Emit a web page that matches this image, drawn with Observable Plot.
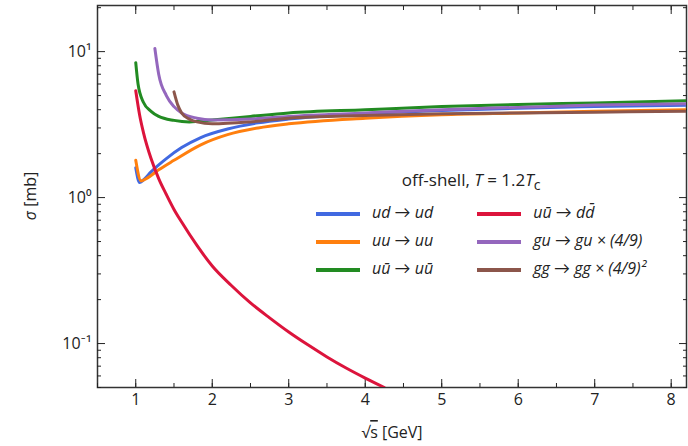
<!DOCTYPE html>
<html>
<head>
<meta charset="UTF-8">
<script src="https://cdn.jsdelivr.net/npm/d3@7"></script>
<script src="https://cdn.jsdelivr.net/npm/@observablehq/plot@0.6/dist/plot.umd.min.js"></script>
<style>
  body { margin: 0; background: #fff; font-family: "Open Sans", Lato, sans-serif; }
  #wrap { position: relative; width: 688px; height: 446px; }
  #legend { position: absolute; left: 312px; top: 168px; font-size: 16px; color: #222; }
  #legend .title { text-align: center; font-size: 17px; margin-left: -20px; margin-bottom: 4px; }
  #legend table { border-collapse: collapse; }
  #legend td { padding: 0 4px; height: 28px; font-style: italic; white-space: nowrap; }
  #legend td:first-child { padding-right: 40px; }
  #legend .sw { display: inline-block; width: 44px; height: 4px; vertical-align: middle; margin-right: 12px; }
</style>
</head>
<body>
<div id="wrap">
  <div id="chart"></div>
  <div id="legend"></div>
</div>
<script>
// sigma(√s) curves
const blueX = [1.0, 1.05, 1.1, 1.2, 1.4, 1.6, 1.85, 2.2, 2.6, 3, 4, 5, 6, 7, 8.2];
const blueY = [1.6, 1.27, 1.32, 1.5, 1.85, 2.2, 2.58, 2.95, 3.25, 3.45, 3.75, 3.95, 4.1, 4.2, 4.3];
const orangeX = [1.0, 1.07, 1.15, 1.3, 1.5, 1.85, 2.2, 2.6, 3, 4, 5, 6, 7, 8.2];
const orangeY = [1.8, 1.3, 1.36, 1.55, 1.8, 2.3, 2.7, 3.0, 3.2, 3.5, 3.7, 3.8, 3.9, 4.0];
const greenX = [1.0, 1.03, 1.1, 1.2, 1.3, 1.5, 1.7, 2, 2.5, 3, 4, 5, 6, 7, 8.2];
const greenY = [8.4, 6.0, 4.5, 3.9, 3.6, 3.38, 3.3, 3.4, 3.6, 3.8, 4.0, 4.2, 4.35, 4.45, 4.6];
const redX = [1.0, 1.05, 1.1, 1.2, 1.3, 1.4, 1.5, 1.6, 1.8, 2, 2.25, 2.5, 2.75, 3, 3.25, 3.5, 3.75, 4, 4.25];
const redY = [5.4, 3.7, 2.8, 1.85, 1.35, 1.05, 0.83, 0.68, 0.47, 0.34, 0.25, 0.19, 0.15, 0.12, 0.098, 0.081, 0.068, 0.058, 0.05];
const purpleX = [1.25, 1.3, 1.4, 1.5, 1.6, 1.8, 2, 2.5, 3, 4, 5, 6, 7, 8.2];
const purpleY = [10.5, 7.0, 5.0, 4.2, 3.8, 3.5, 3.4, 3.45, 3.6, 3.8, 4.0, 4.15, 4.3, 4.4];
const brownX = [1.5, 1.55, 1.6, 1.7, 1.8, 2, 2.5, 3, 4, 5, 6, 7, 8.2];
const brownY = [5.3, 4.3, 3.8, 3.45, 3.3, 3.2, 3.3, 3.5, 3.65, 3.75, 3.8, 3.85, 3.9];

const series = [
  {name: "ud → ud", color: "#4169e1", xs: blueX, ys: blueY},
  {name: "uu → uu", color: "#ff7f0e", xs: orangeX, ys: orangeY},
  {name: "uū → uū", color: "#228b22", xs: greenX, ys: greenY},
  {name: "uū → dd̄", color: "#dc143c", xs: redX, ys: redY},
  {name: "gu → gu × (4/9)", color: "#9467bd", xs: purpleX, ys: purpleY},
  {name: "gg → gg × (4/9)²", color: "#8c564b", xs: brownX, ys: brownY}
];
const rows = series.flatMap(s => s.xs.map((x, i) => ({name: s.name, x, y: s.ys[i]})));
const colorOf = Object.fromEntries(series.map(s => [s.name, s.color]));

const xMajor = [1, 2, 3, 4, 5, 6, 7, 8];
const xMinor = d3.range(0.5, 8.3, 0.5);
const yMajor = [0.1, 1, 10];
const yMinor = [0.05,0.06,0.07,0.08,0.09,0.2,0.3,0.4,0.5,0.6,0.7,0.8,0.9,2,3,4,5,6,7,8,9,20];
const yLabels = {0.1: "10⁻¹", 1: "10⁰", 10: "10¹"};
const none = () => "";

const chart = Plot.plot({
  width: 688, height: 446,
  marginLeft: 97, marginRight: 2, marginTop: 5, marginBottom: 59,
  style: {fontFamily: "'Open Sans', Lato, sans-serif", fontSize: "16px", color: "#222"},
  x: {domain: [0.5, 8.2]},
  y: {type: "log", domain: [0.05, 20.7]},
  marks: [
    Plot.frame({stroke: "#333", strokeWidth: 1.5}),
    Plot.axisX(xMajor, {anchor: "bottom", tickSize: -8, tickPadding: 14, fontSize: 16, label: null}),
    Plot.axisX(xMinor, {anchor: "bottom", tickSize: -4, tickFormat: none, label: null}),
    Plot.axisX(xMajor, {anchor: "top", tickSize: -8, tickFormat: none, label: null}),
    Plot.axisX(xMinor, {anchor: "top", tickSize: -4, tickFormat: none, label: null}),
    Plot.axisY(yMajor, {anchor: "left", tickSize: -8, tickPadding: 14, fontSize: 16, tickFormat: d => yLabels[d], label: null}),
    Plot.axisY(yMinor, {anchor: "left", tickSize: -4, tickFormat: none, label: null}),
    Plot.axisY(yMajor, {anchor: "right", tickSize: -8, tickFormat: none, label: null}),
    Plot.axisY(yMinor, {anchor: "right", tickSize: -4, tickFormat: none, label: null}),
    Plot.line(rows, {x: "x", y: "y", z: "name", stroke: d => colorOf[d.name],
      strokeWidth: 3, curve: "monotone-x", clip: true})
  ]
});
document.getElementById("chart").append(chart);

const svg = d3.select(chart);
svg.append("text").attr("x", 392).attr("y", 438).attr("text-anchor", "middle")
  .style("font-size", "16px").html('√<tspan text-decoration="overline">s</tspan> [GeV]');
svg.append("text").attr("transform", "translate(36,196) rotate(-90)").attr("text-anchor", "middle")
  .style("font-size", "16px").html('<tspan font-style="italic">σ</tspan> [mb]');

const leg = document.getElementById("legend");
leg.innerHTML = '<div class="title">off-shell, <i>T</i> = 1.2<i>T</i><sub>c</sub></div>';
const tbl = document.createElement("table");
for (let r = 0; r < 3; r++) {
  const tr = document.createElement("tr");
  for (const s of [series[r], series[r + 3]]) {
    const td = document.createElement("td");
    td.innerHTML = `<span class="sw" style="background:${s.color}"></span>${s.name}`;
    tr.append(td);
  }
  tbl.append(tr);
}
leg.append(tbl);
</script>
</body>
</html>
